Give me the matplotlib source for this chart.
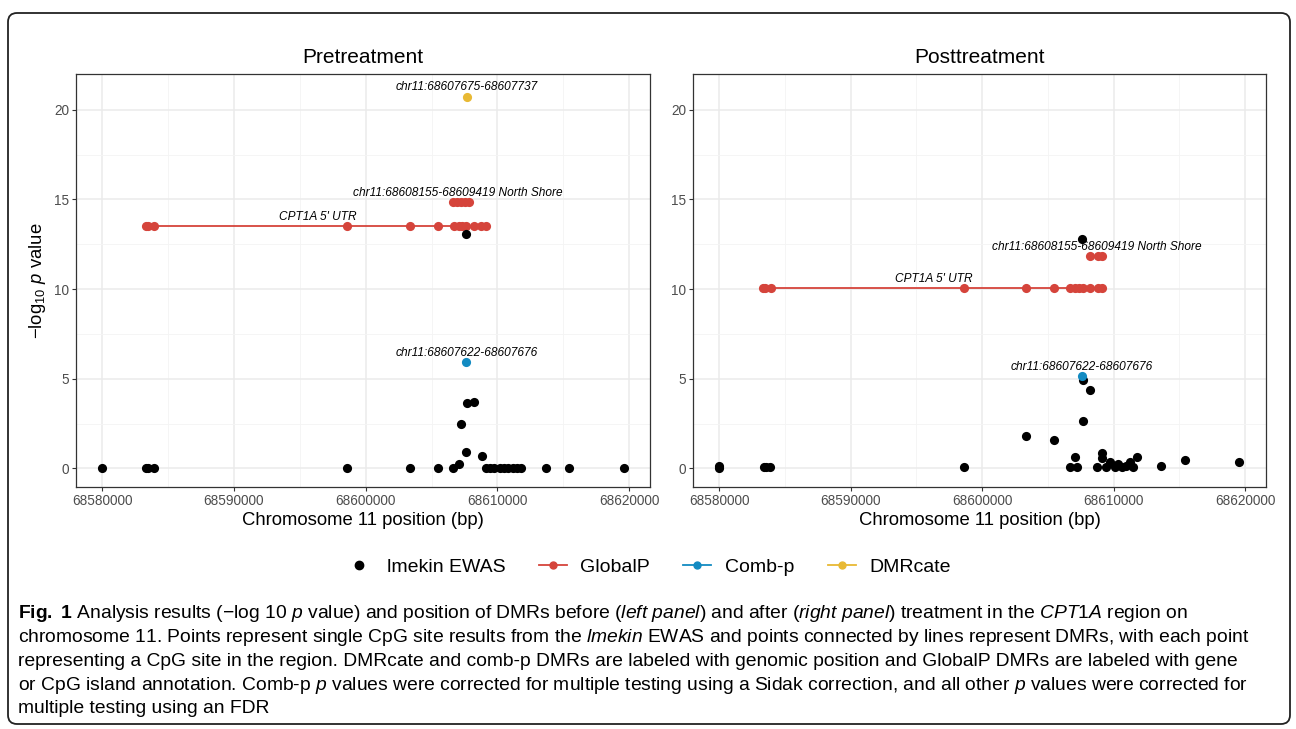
"""
Fig. 1 remake: lmekin EWAS single sites and DMRs around CPT1A on chromosome 11,
before and after treatment
"""
import matplotlib
matplotlib.use("Agg")
import matplotlib.pyplot as plt
from matplotlib.lines import Line2D
from matplotlib.patches import FancyBboxPatch
from matplotlib.transforms import IdentityTransform

plt.rcParams['font.family'] = ['Liberation Sans', 'DejaVu Sans']
plt.rcParams['mathtext.fontset'] = 'custom'
plt.rcParams['mathtext.rm'] = 'Liberation Sans'
plt.rcParams['mathtext.it'] = 'Liberation Sans:italic'
plt.rcParams['mathtext.bf'] = 'Liberation Sans:bold'

# ---- data ----
panel_titles = ["Pretreatment", "Posttreatment"]

# lmekin EWAS single CpG sites (position bp, -log10 p)
pre_ewas_pos = [68580000, 68583330, 68583500, 68583950, 68598620, 68603365, 68605506,
                68606640, 68607070, 68607220, 68607650, 68607700, 68608230, 68608810,
                68609110, 68609414, 68609716, 68610223, 68610473, 68610798, 68611176,
                68611509, 68611811, 68613650, 68615410, 68619570, 68607600]
pre_ewas_val = [0.03, 0.03, 0.03, 0.03, 0.03, 0.03, 0.03,
                0.03, 0.22, 2.47, 0.90, 3.65, 3.70, 0.69,
                0.02, 0.02, 0.02, 0.02, 0.02, 0.02, 0.02,
                0.02, 0.02, 0.02, 0.02, 0.02, 13.09]

post_ewas_pos = [68580000, 68580000, 68583407, 68583581, 68583907, 68598600, 68603340,
                 68605480, 68606670, 68607050, 68607226, 68607635, 68607680, 68608190,
                 68608770, 68609150, 68609150, 68609452, 68609702, 68610080, 68610330,
                 68610664, 68610966, 68611269, 68611466, 68611768, 68613585, 68615430,
                 68619545, 68607605]
post_ewas_val = [0.02, 0.14, 0.09, 0.09, 0.09, 0.09, 1.82,
                 1.56, 0.09, 0.65, 0.09, 2.66, 4.93, 4.37,
                 0.05, 0.84, 0.56, 0.05, 0.37, 0.05, 0.24,
                 0.05, 0.13, 0.37, 0.05, 0.65, 0.13, 0.46,
                 0.37, 12.81]

# GlobalP DMR: CPT1A 5' UTR (same CpGs in both panels)
utr_pos = [68583330, 68583500, 68583950, 68598600, 68603350, 68605500, 68606700,
           68607050, 68607350, 68607650, 68608200, 68608780, 68609150]
pre_utr_val = 13.5
post_utr_val = 10.06

# GlobalP DMR: North Shore
pre_shore_pos = [68606600, 68606900, 68607250, 68607550, 68607850]
pre_shore_val = 14.86
post_shore_pos = [68608200, 68608780, 68609150]
post_shore_val = 11.86

# Comb-p and DMRcate DMRs
pre_combp_pos, pre_combp_val = [68607650], [5.94]
post_combp_pos, post_combp_val = [68607605], [5.17]
pre_dmrcate_pos, pre_dmrcate_val = [68607700], [20.74]

# labels: (text, x, y)
pre_labels = [("chr11:68607675-68607737", 68607700, 21.27),
              ("chr11:68608155-68609419 North Shore", 68607000, 15.38),
              ("CPT1A 5' UTR", 68596333, 14.04),
              ("chr11:68607622-68607676", 68607650, 6.46)]
post_labels = [("chr11:68608155-68609419 North Shore", 68608755, 12.37),
               ("CPT1A 5' UTR", 68596339, 10.58),
               ("chr11:68607622-68607676", 68607605, 5.68)]

legend_labels = ["lmekin EWAS", "GlobalP", "Comb-p", "DMRcate"]

x_ticks = [68580000, 68590000, 68600000, 68610000, 68620000]
y_ticks = [0, 5, 10, 15, 20]

# ---- styling ----
RED = '#D5443B'
BLUE = '#138BC2'
YELLOW = '#E8B934'
MS = 6.6
W, H = 1296, 729

fig = plt.figure(figsize=(W / 100, H / 100), dpi=100)


def px_rect(x0, y0, x1, y1):
    # pixel box (top-left origin) -> figure fraction rect
    return [x0 / W, 1 - y1 / H, (x1 - x0) / W, (y1 - y0) / H]


ax_pre = fig.add_axes(px_rect(76, 74, 650, 487))
ax_post = fig.add_axes(px_rect(693, 74, 1266, 487))


def style_axis(ax, title):
    ax.set_xlim(68578020, 68621580)
    ax.set_ylim(-1.04, 22.0)
    ax.set_xticks(x_ticks)
    ax.set_xticks([68585000, 68595000, 68605000, 68615000], minor=True)
    ax.set_yticks(y_ticks)
    ax.set_yticks([2.5, 7.5, 12.5, 17.5], minor=True)
    ax.set_xticklabels([str(t) for t in x_ticks])
    ax.grid(which='major', color='#EBEBEB', linewidth=1.1, zorder=0)
    ax.grid(which='minor', color='#F4F4F4', linewidth=0.6, zorder=0)
    ax.set_axisbelow(True)
    ax.tick_params(which='major', length=3, width=0.8, color='#333333',
                   labelsize=9.8, labelcolor='#4D4D4D', pad=2)
    ax.tick_params(which='minor', length=0)
    for s in ax.spines.values():
        s.set_color('#333333')
        s.set_linewidth(0.9)
    ax.set_title(title, fontsize=15, pad=8)
    ax.set_xlabel("Chromosome 11 position (bp)", fontsize=13.3, labelpad=3)


def draw_dmr(ax, pos, val, color):
    ax.plot(pos, [val] * len(pos), color=color, linewidth=1.3, marker='o',
            markersize=MS, markeredgewidth=0, zorder=3)


# pretreatment
style_axis(ax_pre, panel_titles[0])
draw_dmr(ax_pre, utr_pos, pre_utr_val, RED)
draw_dmr(ax_pre, pre_shore_pos, pre_shore_val, RED)
ax_pre.plot(pre_ewas_pos, pre_ewas_val, 'o', color='black', ms=MS, mew=0, zorder=4)
ax_pre.plot(pre_combp_pos, pre_combp_val, 'o', color=BLUE, ms=MS, mew=0, zorder=5)
ax_pre.plot(pre_dmrcate_pos, pre_dmrcate_val, 'o', color=YELLOW, ms=MS, mew=0, zorder=5)
for txt, x, y in pre_labels:
    ax_pre.text(x, y, txt, ha='center', va='center', fontsize=8.6, style='italic', zorder=6)
ax_pre.set_ylabel(r"$-$log$_{10}$ $\it{p}$ value", fontsize=13.3, labelpad=4)

# posttreatment
style_axis(ax_post, panel_titles[1])
draw_dmr(ax_post, utr_pos, post_utr_val, RED)
draw_dmr(ax_post, post_shore_pos, post_shore_val, RED)
ax_post.plot(post_ewas_pos, post_ewas_val, 'o', color='black', ms=MS, mew=0, zorder=4)
ax_post.plot(post_combp_pos, post_combp_val, 'o', color=BLUE, ms=MS, mew=0, zorder=5)
for txt, x, y in post_labels:
    ax_post.text(x, y, txt, ha='center', va='center', fontsize=8.6, style='italic', zorder=6)

# legend under both panels
handles = [Line2D([], [], color='black', marker='o', linestyle='None', ms=6),
           Line2D([], [], color=RED, marker='o', lw=1.3, ms=5),
           Line2D([], [], color=BLUE, marker='o', lw=1.3, ms=5),
           Line2D([], [], color=YELLOW, marker='o', lw=1.3, ms=5)]
fig.legend(handles, legend_labels, loc='center', bbox_to_anchor=(0.5, 1 - 567 / H),
           ncol=4, frameon=False, fontsize=14, handlelength=1.45,
           handletextpad=0.7, columnspacing=1.7)

# caption, italics/bold via mathtext; size fitted so line 2 spans like the original
caption_lines = [
    r"$\mathbf{Fig.\ 1}$ Analysis results (−log 10 $\mathit{p}$ value) and position of DMRs before "
    r"($\mathit{left\ panel}$) and after ($\mathit{right\ panel}$) treatment in the $\mathit{CPT1A}$ region on",
    r"chromosome 11. Points represent single CpG site results from the $\mathit{lmekin}$ EWAS and "
    r"points connected by lines represent DMRs, with each point",
    "representing a CpG site in the region. DMRcate and comb-p DMRs are labeled with genomic "
    "position and GlobalP DMRs are labeled with gene",
    r"or CpG island annotation. Comb-p $\mathit{p}$ values were corrected for multiple testing "
    r"using a Sidak correction, and all other $\mathit{p}$ values were corrected for",
    "multiple testing using an FDR",
]
cap_texts = []
for i, line in enumerate(caption_lines):
    t = fig.text(18 / W, 1 - (614 + i * 23.7) / H, line, ha='left', va='center', fontsize=14)
    cap_texts.append(t)

renderer = fig.canvas.get_renderer()
widest = max(t.get_window_extent(renderer).width for t in cap_texts)
cap_size = 14 * 1235 / widest
for t in cap_texts:
    t.set_fontsize(cap_size)

# rounded frame round the whole thing
frame = FancyBboxPatch((8, 5), 1282, 711, boxstyle="round,pad=0,rounding_size=9",
                       transform=IdentityTransform(), fill=False,
                       edgecolor='#222222', linewidth=1.3)
fig.patches.append(frame)

fig.savefig("out.png", dpi=100)
